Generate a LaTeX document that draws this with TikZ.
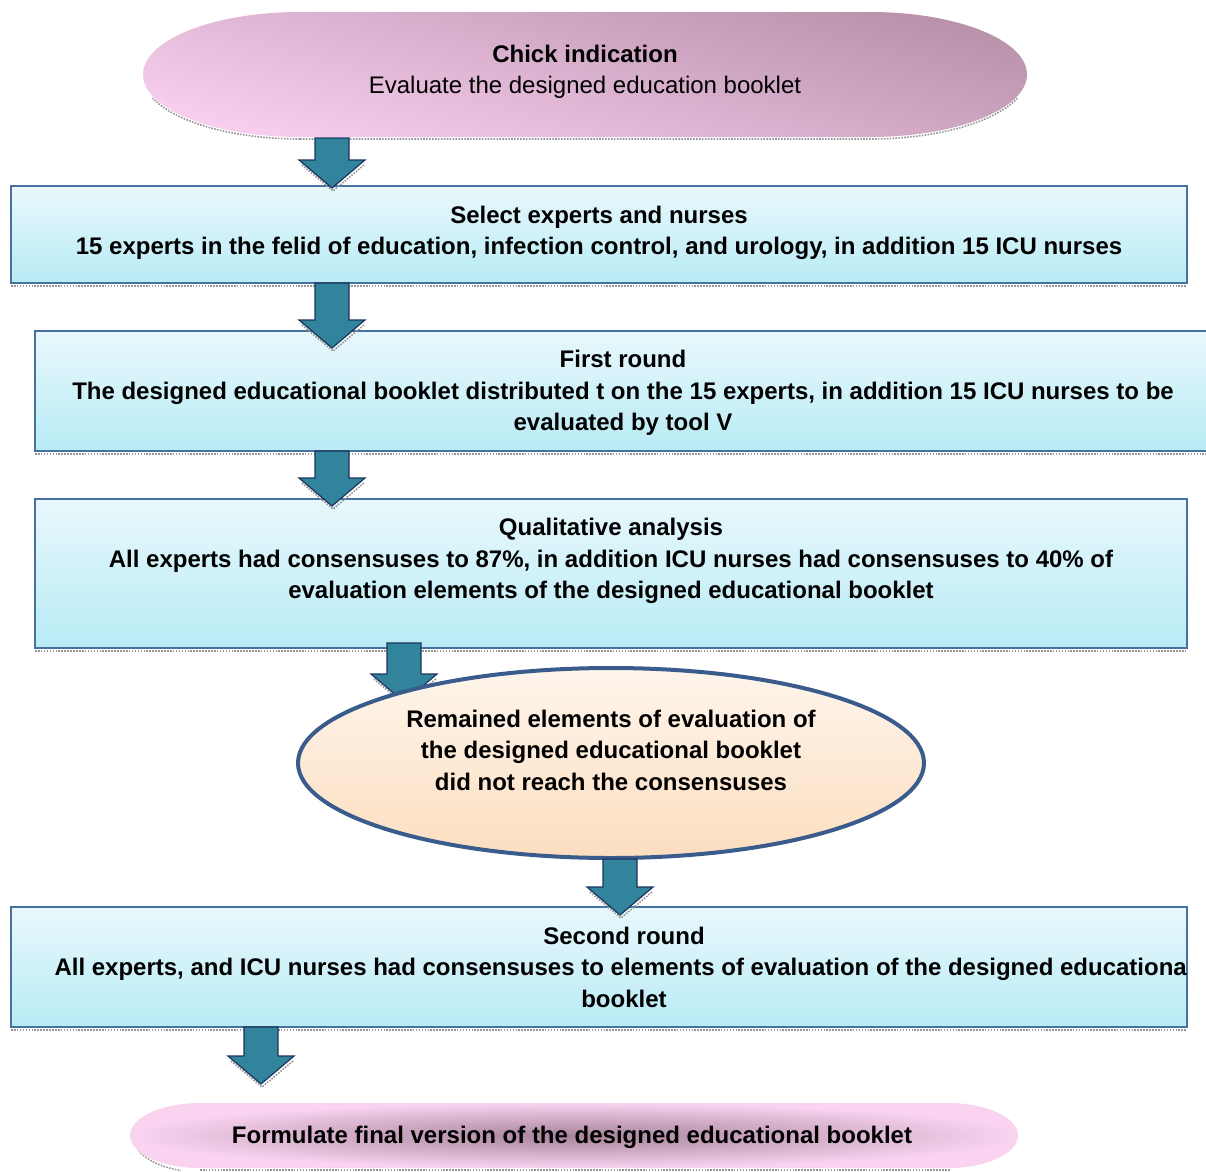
\documentclass[tikz,border=0pt]{standalone}
\usepackage{fontspec}
\setmainfont{Liberation Sans}
\usetikzlibrary{calc,fit,shapes.geometric}
\definecolor{arrowfill}{RGB}{49,132,155}
\definecolor{arrowline}{RGB}{28,52,95}
\definecolor{boxline}{RGB}{72,112,160}
\definecolor{boxtop}{RGB}{232,248,252}
\definecolor{boxbot}{RGB}{184,235,245}
\definecolor{pinklight}{RGB}{248,206,238}
\definecolor{mauve}{RGB}{186,146,172}
\definecolor{peachtop}{RGB}{254,245,236}
\definecolor{peachbot}{RGB}{252,222,192}
\definecolor{ellline}{RGB}{58,92,140}
\definecolor{shadowgray}{RGB}{150,150,150}
\tikzset{
  x=0.75pt, y=-0.75pt,
  boxshape/.style={draw=boxline, line width=1.2pt, top color=boxtop, bottom color=boxbot},
  barrow/.style={draw=arrowline, line width=0.9pt, fill=arrowfill, line join=miter},
  bshadow/.style={draw=shadowgray, densely dotted, line width=1.2pt},
  txt/.style={align=center, font=\fontsize{18}{23.6}\selectfont\bfseries, inner sep=0pt},
}
\newcommand{\blockarrow}[2]{%
  \draw[bshadow] ($(#2)+(-31,-26)+(1,3)$) -- ($(#2)+(1,3)$) -- ($(#2)+(31,-26)+(1,3)$);
  \draw[barrow] ($(#1)+(-17,0)$) -- ($(#1)+(17,0)$) -- ($(#2)+(17,-28)$) -- ($(#2)+(33,-28)$) -- (#2) -- ($(#2)+(-33,-28)$) -- ($(#2)+(-17,-28)$) -- cycle;
}
\begin{document}
\begin{tikzpicture}
\useasboundingbox (0,0) rectangle (1206,1171);
\fill[white] (0,0) rectangle (1206,1171);

% ---- top ellipse
\draw[bshadow] (300,139) -- (870,139) arc[start angle=90,end angle=20,x radius=157,y radius=62.5];
\draw[bshadow] (300,139) arc[start angle=90,end angle=160,x radius=157,y radius=62.5];
\path[shading=axis, bottom color=pinklight, top color=mauve, shading angle=-15]
  (300,12) -- (870,12) arc[start angle=-90,end angle=90,x radius=157,y radius=62.5]
  -- (300,137) arc[start angle=90,end angle=270,x radius=157,y radius=62.5] -- cycle;
\node[fit={(143,12)(1027,137)}, inner sep=0pt] (start) {};
\node[txt] (starttxt) at (585,72) {Chick indication\\\mdseries Evaluate the designed education booklet};

% ---- box 1
\draw[bshadow] (11,286) -- (1187,286);
\node[boxshape, fit={(11,186)(1187,283)}, inner sep=0pt] (b1) {};
\node[txt] (b1txt) at (599,233) {Select experts and nurses\\15 experts in the felid of education, infection control, and urology, in addition 15 ICU nurses};

% ---- box 2
\draw[bshadow] (35,454) -- (1212,454);
\node[boxshape, fit={(35,331)(1212,451)}, inner sep=0pt] (b2) {};
\node[txt] (b2txt) at (623,393) {First round\\The designed educational booklet distributed t on the 15 experts, in addition 15 ICU nurses to be\\evaluated by tool V};

% ---- box 3
\draw[bshadow] (35,651) -- (1187,651);
\node[boxshape, fit={(35,499)(1187,648)}, inner sep=0pt] (b3) {};
\node[txt] (b3txt) at (611,561) {Qualitative analysis\\All experts had consensuses to 87\%, in addition ICU nurses had consensuses to 40\% of\\evaluation elements of the designed educational booklet};

% ---- box 4
\draw[bshadow] (11,1030) -- (1187,1030);
\node[boxshape, fit={(11,907)(1187,1027)}, inner sep=0pt] (b4) {};
\begin{scope}
\clip (11,907) rectangle (1187,1027);
\node[txt] (b4txt) at (624,967) {Second round\\All experts, and ICU nurses had consensuses to elements of evaluation of the designed educational\\booklet};
\end{scope}

% ---- arrows between boxes
\coordinate (a1s) at (332,138); \coordinate (a1e) at (332,188);
\blockarrow{a1s}{a1e}
\coordinate (a2s) at (332,283); \coordinate (a2e) at (332,348);
\blockarrow{a2s}{a2e}
\coordinate (a3s) at (332,451); \coordinate (a3e) at (332,506);
\blockarrow{a3s}{a3e}
\coordinate (a4s) at (404,643); \coordinate (a4e) at (404,702);
\blockarrow{a4s}{a4e}

% ---- middle ellipse
\node[draw=ellline, line width=3pt, top color=peachtop, bottom color=peachbot,
  ellipse, minimum width=469.5pt, minimum height=142.5pt, inner sep=0pt] (mid) at (611,763) {};
\node[txt] (midtxt) at (611,750) {Remained elements of evaluation of\\the designed educational booklet\\did not reach the consensuses};

\coordinate (a5s) at (620,859); \coordinate (a5e) at (620,915);
\blockarrow{a5s}{a5e}
\coordinate (a6s) at (261,1027); \coordinate (a6e) at (261,1084);
\blockarrow{a6s}{a6e}

% ---- bottom ellipse
\draw[bshadow] (200,1170) -- (950,1170);
\draw[bshadow] (135,1140) arc[start angle=180,end angle=110,x radius=70,y radius=32.5];
\path[inner color=mauve!90!black, outer color=pinklight!90]
  (200,1103) -- (948,1103) arc[start angle=-90,end angle=90,x radius=70,y radius=32.5]
  -- (200,1168) arc[start angle=90,end angle=270,x radius=70,y radius=32.5] -- cycle;
\node[fit={(130,1103)(1018,1168)}, inner sep=0pt] (end) {};
\node[txt] (endtxt) at (572,1137) {Formulate final version of the designed educational booklet};
\end{tikzpicture}
\end{document}
